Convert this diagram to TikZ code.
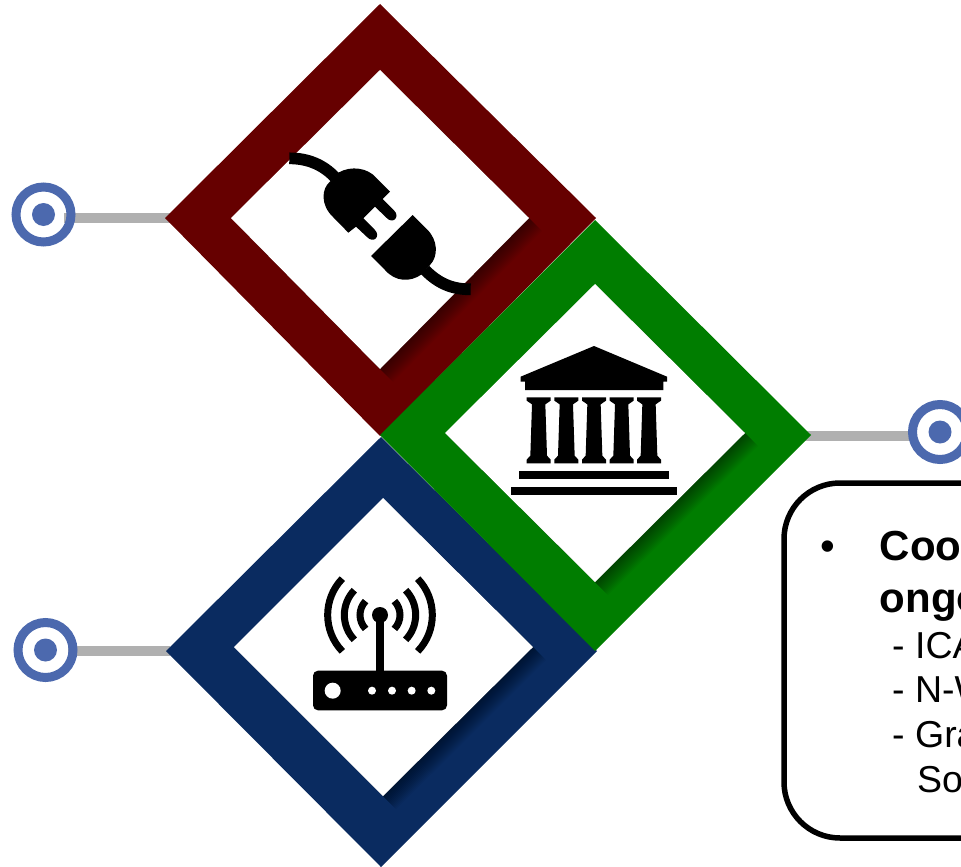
\documentclass[tikz,border=0pt]{standalone}
\usepackage{fontspec}
\setmainfont{Liberation Sans}
\definecolor{redframe}{HTML}{660000}
\definecolor{greenframe}{HTML}{007D00}
\definecolor{blueframe}{HTML}{0A2B60}
\definecolor{ringblue}{HTML}{4C69AE}
\definecolor{stemgrey}{HTML}{B0B0B0}
\tikzset{
  stem/.style={draw=stemgrey,line width=10pt},
  ring/.style={circle,draw=ringblue,line width=9pt,inner sep=0pt,minimum size=55pt},
  dot/.style={circle,fill=ringblue,inner sep=0pt,minimum size=23pt},
  textbox/.style={draw=black,line width=5.5pt,rounded corners=56pt},
  boldline/.style={anchor=base west,inner sep=0pt,font=\fontsize{42}{42}\selectfont\bfseries},
  plainline/.style={anchor=base west,inner sep=0pt,font=\fontsize{37.5}{37.5}\selectfont},
  soft/.style={black,opacity=.04},
}
\begin{document}
\begin{tikzpicture}[x=1pt,y=-1pt]
\useasboundingbox (0,0) rectangle (961,867);
% stems
\coordinate (tipA) at (170,218);
\coordinate (tipB) at (800,436);
\coordinate (tipC) at (170,651);
\coordinate (startA) at (64,218);
\coordinate (startB) at (915,436);
\coordinate (startC) at (68,651);
\draw[stem] (startA) -- (tipA);
\draw[stem] (startB) -- (tipB);
\draw[stem] (startC) -- (tipC);
% red frame
\fill[redframe] (380,4) -- (596,218) -- (380,436) -- (165,218) -- cycle;
\foreach \d in {1,...,13}
  \fill[soft] (380+\d,70+\d) -- (529+\d,218+\d) -- (380+\d,369+\d) -- (231+\d,218+\d) -- cycle;
\fill[white] (380,70) -- (529,218) -- (380,369) -- (231,218) -- cycle;
% blue frame
\fill[blueframe] (381,437) -- (597,651) -- (381,867) -- (166,651) -- cycle;
\foreach \d in {1,...,13}
  \fill[soft] (383+\d,498+\d) -- (533+\d,647+\d) -- (383+\d,796+\d) -- (234+\d,647+\d) -- cycle;
\fill[white] (383,498) -- (533,647) -- (383,796) -- (234,647) -- cycle;
% green frame
\fill[greenframe] (595,220) -- (811,435) -- (595,651) -- (380,435) -- cycle;
\foreach \d in {1,...,13}
  \fill[soft] (595+\d,284+\d) -- (745+\d,433+\d) -- (595+\d,582+\d) -- (445+\d,433+\d) -- cycle;
\fill[white] (595,284) -- (745,433) -- (595,582) -- (445,433) -- cycle;
% plug
\begin{scope}[xshift=270pt,yshift=-130pt,scale=1/3]
  \draw[black,line width=11.7pt] (58,85) .. controls (115,85) and (160,105) .. (195,142);
  \fill[black] (205,128) .. controls (245,105) and (295,115) .. (318,143)
    -- (360,185) -- (338,207) -- (372,241)
    .. controls (392,261) and (368,285) .. (348,262)
    -- (315,230) -- (280,265) -- (314,299)
    .. controls (334,319) and (310,343) .. (290,320)
    -- (258,290) -- (235,308) -- (190,262)
    .. controls (150,225) and (155,175) .. (180,155) -- cycle;
  \fill[black] (303,378) -- (428,255) -- (470,297)
    .. controls (505,330) and (505,380) .. (480,405)
    -- (455,433) .. controls (420,458) and (375,455) .. (345,420) -- cycle;
  \draw[black,line width=11.7pt] (465,420) .. controls (505,460) and (545,478) .. (602,478);
\end{scope}
% temple
\begin{scope}[xshift=500pt,yshift=-335pt,scale=1/3]
  \fill[black] (282,33) -- (501,125) -- (501,140) -- (490,140) -- (490,165) -- (75,165) -- (75,140) -- (62,140) -- (62,125) -- cycle;
  \foreach \c in {116,199,282,365,447}
    \fill[black] (\c-36,187) -- (\c+36,187) -- (\c+36,197) -- (\c+20,208) -- (\c+25,362) -- (\c+36,374) -- (\c+36,385) -- (\c-36,385) -- (\c-36,374) -- (\c-25,362) -- (\c-20,208) -- (\c-36,197) -- cycle;
  \fill[black] (57,408) rectangle (507,432);
  \fill[black] (33,455) rectangle (530,480);
\end{scope}
% router
\begin{scope}[xshift=300pt,yshift=-565pt,scale=1/3]
  \fill[black,rounded corners=5pt] (39,317) rectangle (441,436);
  \fill[white] (98,377) circle[radius=24];
  \foreach \c in {216,276,335,394} \fill[white] (\c,377) circle[radius=12];
  \fill[black] (229,150) rectangle (251,320);
  \fill[black] (240,150) circle[radius=24];
  \foreach \r in {60,107,157} {
    \draw[black,line width=7pt] (240,150) ++(136:\r) arc[start angle=136,end angle=224,radius=\r];
    \draw[black,line width=7pt] (240,150) ++(44:\r) arc[start angle=44,end angle=-44,radius=\r];
  }
\end{scope}
% targets
\node[ring] (ringA) at (43.5,214.5) {};
\node[dot] (dotA) at (43.5,214.5) {};
\node[ring] (ringB) at (940,432) {};
\node[dot] (dotB) at (940,432) {};
\node[ring] (ringC) at (45.5,650) {};
\node[dot] (dotC) at (45.5,650) {};
% text box
\draw[textbox] (784,483) rectangle (1150,838);
\node[anchor=base west,inner sep=0pt,font=\fontsize{42}{42}\selectfont] (bullet) at (820,560) {•};
\node[boldline] (l1) at (879.5,560) {Coo};
\node[boldline] (l2) at (879.5,612) {ongo};
\node[plainline] (l3) at (892,658) {- ICA};
\node[plainline] (l4) at (892,702) {- N-W};
\node[plainline] (l5) at (892,747) {- Gra};
\node[plainline] (l6) at (917,792) {So};
\end{tikzpicture}
\end{document}
